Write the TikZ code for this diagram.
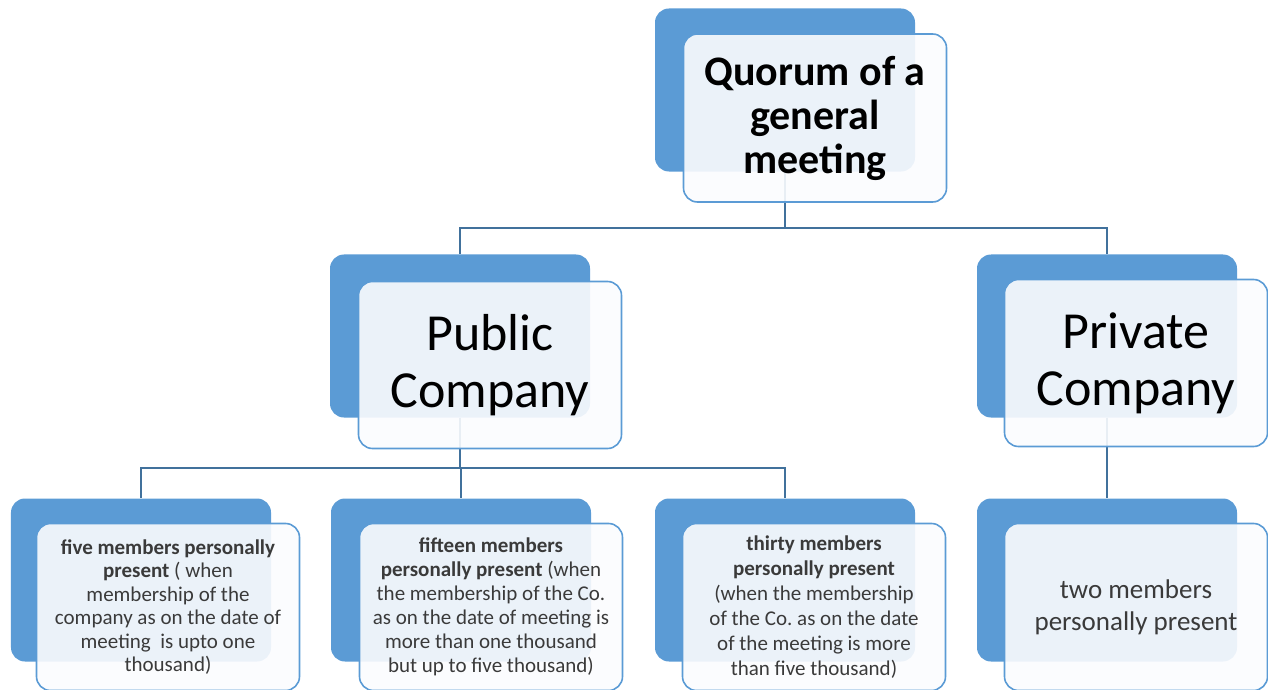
\documentclass[tikz,border=0pt]{standalone}
\usepackage{fontspec}
\setmainfont{Carlito}
\frenchspacing
\definecolor{backblue}{HTML}{5B9BD5}
\definecolor{frontfill}{HTML}{FBFCFE}
\definecolor{linkblue}{HTML}{41719C}
\definecolor{greytext}{HTML}{3A3A3A}

\tikzset{backbox/.style = {rectangle, rounded corners=14bp, fill=backblue,
                           minimum width=260bp, minimum height=163bp, inner sep=0pt},
         frontbox/.style = {rectangle, rounded corners=14bp, draw=backblue,
                            line width=1.6bp, fill=frontfill, fill opacity=0.9,
                            text opacity=1, align=center, inner sep=0pt,
                            minimum width=263bp, minimum height=#1},
         frontbox/.default=167bp,
         link/.style = {draw=linkblue, line width=1.8bp}
        }

\begin{document}
\begin{tikzpicture}[x=1bp, y=-1bp]
  \tikzstyle{titletext}=[font=\bfseries\fontsize{42bp}{44bp}\selectfont]
  \tikzstyle{bigtext}=[font=\fontsize{52bp}{57bp}\selectfont]
  \tikzstyle{smalltext}=[text=greytext, font=\fontsize{21bp}{#1}\selectfont]
  \tikzstyle{midtext}=[text=greytext, font=\fontsize{27bp}{32bp}\selectfont]
  \useasboundingbox (0,0) rectangle (1268,690);
  % back boxes
  \node[backbox] (quorumB)  at (785,90)  {};
  \node[backbox] (publicB)  at (460,336) {};
  \node[backbox] (privateB) at (1107,336) {};
  \node[backbox] (fiveB)    at (141,580) {};
  \node[backbox] (fifteenB) at (461,580) {};
  \node[backbox] (thirtyB)  at (785,580) {};
  \node[backbox] (twoB)     at (1107,580) {};
  % connectors
  \draw[link] (quorumB.south) -- ++(0,56) -| (publicB.north);
  \draw[link] (quorumB.south) -- ++(0,56) -| (privateB.north);
  \draw[link] (publicB.south) -- ++(0,50) -| (fiveB.north);
  \draw[link] (publicB.south) -- ++(0,50) -| (fifteenB.north);
  \draw[link] (publicB.south) -- ++(0,50) -| (thirtyB.north);
  \draw[link] (privateB.south) -- (twoB.north);
  % front boxes
  \node[frontbox=168bp, titletext] (quorum) at (815,118)
    {Quorum of a\\general\\meeting};
  \node[frontbox, bigtext] (public) at (490,365) {Public\\Company};
  \node[frontbox, bigtext] (private) at (1136,363) {Private\\Company};
  \node[frontbox, smalltext=23.5bp] (five) at (168,607)
    {\textbf{five members personally}\\\textbf{present} ( when\\membership of the\\company as on the date of\\meeting~ is upto one\\thousand)};
  \node[frontbox, smalltext=24bp] (fifteen) at (491,607)
    {\textbf{fifteen members}\\\textbf{personally present} (when\\the membership of the Co.\\as on the date of meeting is\\more than one thousand\\but up to five thousand)};
  \node[frontbox, smalltext=25bp] (thirty) at (814,607)
    {\textbf{thirty members}\\\textbf{personally present}\\(when the membership\\of the Co. as on the date\\of the meeting is more\\than five thousand)};
  \node[frontbox, midtext] (two) at (1136,607) {two members\\personally present};
\end{tikzpicture}
\end{document}
